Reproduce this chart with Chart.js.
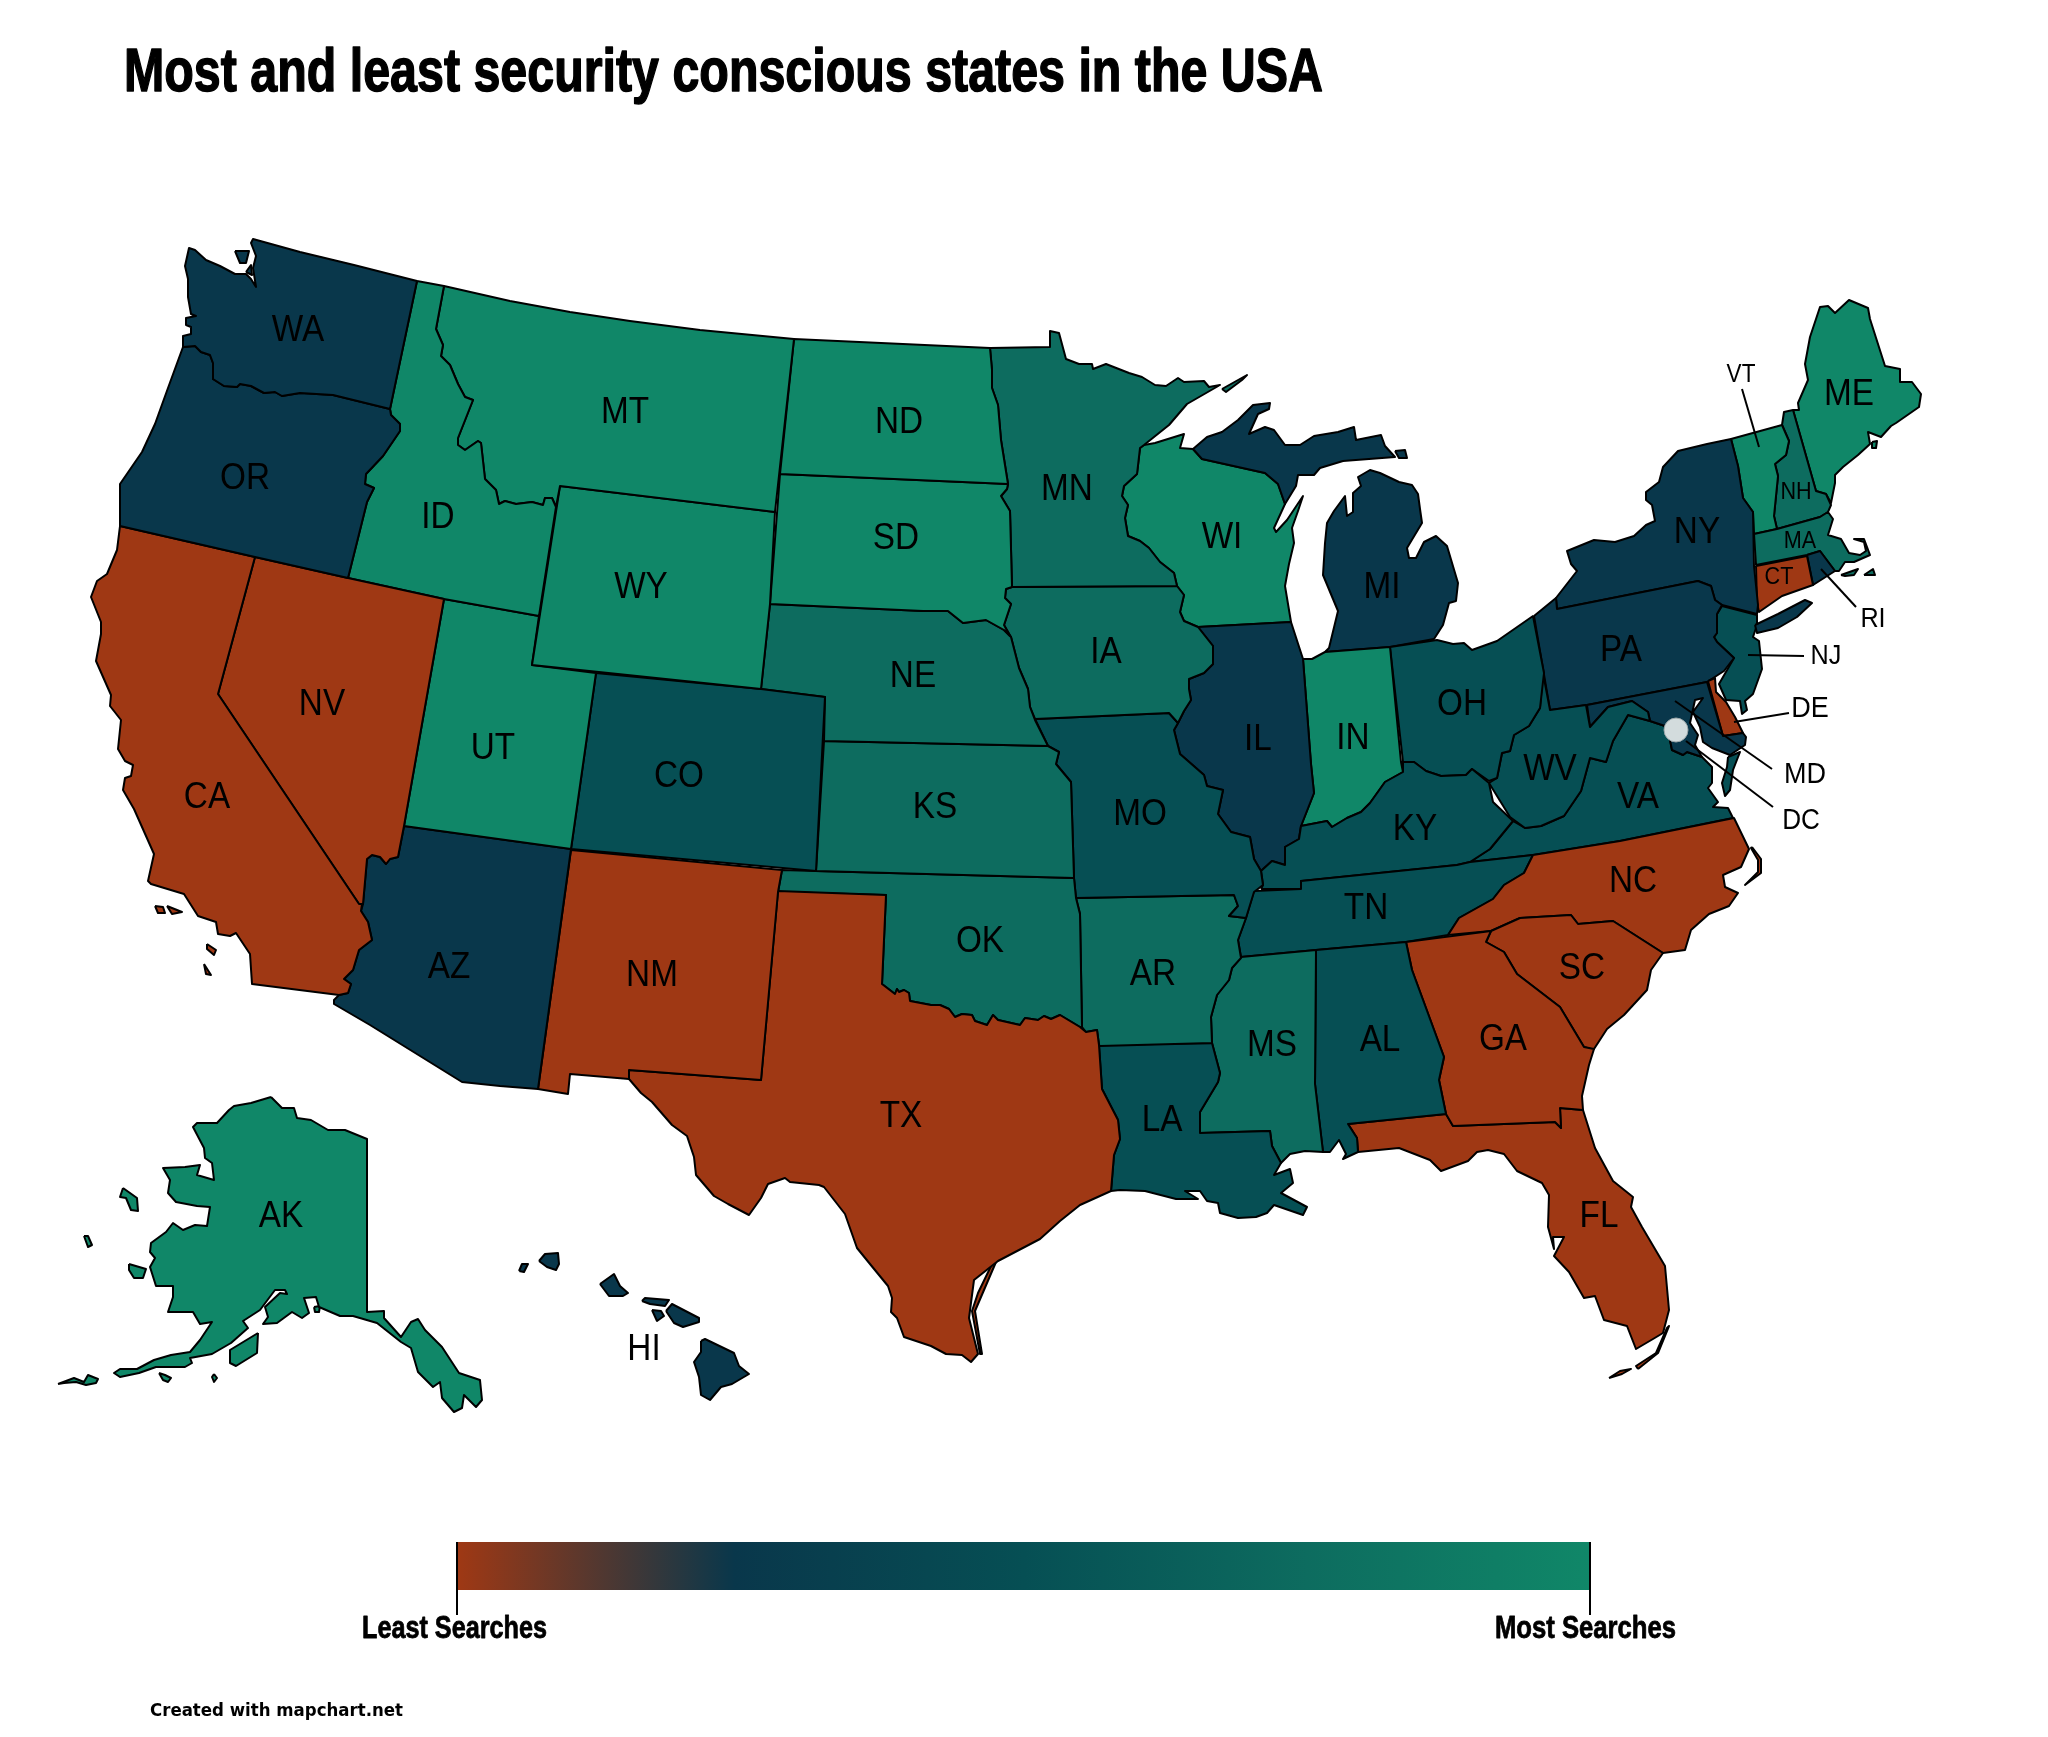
<!DOCTYPE html>
<html>
<head>
<meta charset="utf-8">
<title>Most and least security conscious states in the USA</title>
<script src="https://cdn.jsdelivr.net/npm/chart.js@4"></script>
<style>
html,body{margin:0;padding:0;background:#fff}
canvas{display:block}
</style>
</head>
<body>
<canvas id="map" width="2048" height="1737"></canvas>
<script>
// state outlines, flat x,y lists in map units. one list per land part
const WA=[[417,281,354,265,300,252,253,239,251,243,256,256,253,268,256,287,251,279,246,274,235,274,220,266,206,260,195,250,189,248,185,266,188,279,188,297,191,314,196,316,186,318,186,325,191,327,191,334,183,336,183,347,195,346,201,352,210,355,213,363,213,379,224,386,237,387,240,384,251,386,264,393,275,392,282,396,300,393,333,395,390,409],[235,251,249,251,246,263,240,263],[246,272,251,265,252,275]];
const OR=[[183,347,195,346,201,352,210,355,213,363,213,379,224,386,237,387,240,384,251,386,264,393,275,392,282,396,300,393,333,395,390,409,391,415,400,424,400,431,383,456,366,474,365,484,374,488,367,502,348,578,255,557,120,526,120,484,142,452,155,424,168,388]];
const CA=[[120,526,255,557,218,694,359,904,362,904,361,911,368,922,372,940,359,950,353,970,344,979,351,984,348,993,339,995,252,984,250,954,236,933,230,936,218,934,216,922,198,916,184,894,151,884,148,881,154,854,134,809,123,790,125,778,131,776,133,765,125,761,118,749,121,720,110,706,111,695,96,661,101,634,101,622,91,597,97,581,107,574,117,550],[155,906,163,907,165,913,158,913],[167,906,182,912,172,914],[207,944,216,950,214,955,207,949],[204,964,211,975,206,974]];
const NV=[[255,557,348,578,444,599,404,826,398,857,390,859,386,864,380,857,372,855,367,859,363,904,359,904,218,694]];
const ID=[[417,281,444,286,436,329,443,345,441,356,450,365,458,384,465,397,473,400,458,438,458,445,465,450,478,441,481,443,485,479,496,490,499,504,505,501,516,504,532,502,543,505,545,498,552,498,556,507,539,616,444,599,348,578,367,502,374,488,365,484,366,474,383,456,400,431,400,424,391,415,390,409]];
const MT=[[444,286,510,301,570,312,630,321,700,330,794,339,775,512,560,486,556,507,552,498,545,498,543,505,532,502,516,504,505,501,499,504,496,490,485,479,481,443,478,441,465,450,458,445,458,438,473,400,465,397,458,384,450,365,441,356,443,345,436,329]];
const WY=[[560,486,775,512,770,604,761,689,532,665]];
const UT=[[444,599,539,616,532,665,596,673,571,849,404,826]];
const AZ=[[404,826,571,849,538,1089,500,1086,462,1082,370,1025,334,1004,334,1000,339,995,348,993,351,984,344,979,353,970,359,950,372,940,368,922,361,911,363,904,367,859,372,855,380,857,386,864,390,859,398,857]];
const CO=[[596,673,761,689,825,697,816,871,571,849]];
const NM=[[571,850,782,870,778,892,761,1080,629,1070,629,1079,570,1074,568,1094,538,1089]];
const TX=[[778,891,886,895,882,984,895,994,897,989,899,992,904,990,909,993,910,1001,931,1005,940,1005,949,1009,955,1017,962,1014,972,1015,975,1021,987,1025,993,1015,998,1020,1020,1025,1025,1018,1038,1020,1044,1016,1051,1019,1060,1015,1080,1027,1086,1032,1097,1030,1099,1045,1102,1089,1118,1120,1120,1139,1114,1155,1111,1191,1080,1205,1060,1221,1040,1239,998,1261,974,1280,969,1318,978,1354,971,1362,962,1355,946,1354,931,1346,904,1337,897,1318,891,1312,892,1298,888,1286,870,1264,857,1248,845,1214,824,1187,819,1185,790,1182,785,1178,768,1184,761,1198,749,1215,728,1204,714,1196,696,1175,694,1157,687,1136,672,1125,652,1102,641,1093,629,1079,629,1070,761,1080],[993,1262,978,1293,972,1311,980,1354,982,1354,975,1311,996,1262]];
const ND=[[794,339,990,348,992,370,992,388,998,405,1001,440,1008,484,780,474]];
const SD=[[780,474,1008,484,1007,489,1001,496,1010,511,1012,587,1006,589,1005,598,1011,604,1004,625,1010,636,1004,630,986,620,963,623,948,611,923,611,770,604]];
const NE=[[770,604,923,611,948,611,963,623,986,620,1004,630,1010,636,1011,637,1019,668,1028,689,1030,707,1035,720,1048,746,824,741,825,697,761,689]];
const KS=[[824,741,1048,746,1059,752,1056,764,1071,782,1074,878,816,871]];
const OK=[[782,870,816,871,1074,878,1076,898,1080,914,1082,1027,1080,1027,1060,1015,1051,1019,1044,1016,1038,1020,1025,1018,1020,1025,998,1020,993,1015,987,1025,975,1021,972,1015,962,1014,955,1017,949,1009,940,1005,931,1005,910,1001,909,993,904,990,899,992,897,989,895,994,882,984,886,895,778,892]];
const MN=[[990,348,1050,347,1050,331,1059,333,1066,359,1079,364,1092,364,1093,369,1106,364,1129,373,1142,377,1155,385,1166,386,1178,378,1184,382,1204,381,1209,387,1220,385,1187,404,1169,425,1144,445,1140,448,1137,474,1124,486,1122,496,1128,505,1125,518,1128,536,1140,541,1149,548,1160,562,1174,573,1177,586,1012,587,1010,511,1001,496,1007,489,1008,484,1001,440,998,405,992,388,992,370],[1222,389,1247,375,1242,380,1226,392]];
const IA=[[1006,589,1012,587,1177,586,1184,595,1180,612,1184,621,1198,627,1213,646,1213,664,1204,673,1189,679,1189,689,1191,700,1184,711,1178,723,1169,713,1035,719,1030,707,1028,689,1019,668,1011,637,1004,625,1011,604,1005,598]];
const MO=[[1035,719,1169,713,1178,723,1174,730,1180,754,1204,775,1207,786,1223,790,1218,814,1231,832,1250,837,1254,859,1261,871,1263,885,1254,892,1246,918,1229,916,1238,906,1234,895,1076,898,1074,878,1071,782,1056,764,1059,752,1048,746]];
const AR=[[1076,898,1234,895,1238,906,1229,916,1246,918,1238,940,1241,958,1232,968,1229,980,1217,995,1211,1017,1212,1043,1100,1046,1099,1045,1097,1030,1086,1032,1082,1027,1080,914]];
const LA=[[1099,1045,1212,1043,1220,1073,1218,1082,1200,1112,1200,1133,1270,1131,1272,1146,1281,1163,1274,1175,1290,1169,1293,1183,1281,1193,1307,1207,1303,1215,1274,1205,1267,1213,1256,1217,1238,1218,1220,1213,1218,1203,1207,1201,1200,1191,1185,1191,1198,1199,1176,1199,1145,1191,1120,1190,1111,1191,1114,1155,1120,1139,1118,1120,1102,1089]];
const MS=[[1241,957,1316,950,1315,1084,1323,1152,1305,1151,1290,1154,1281,1163,1272,1146,1270,1131,1200,1133,1200,1112,1218,1082,1220,1073,1212,1043,1211,1017,1217,995,1229,980,1232,968]];
const AL=[[1316,950,1406,942,1412,970,1444,1057,1439,1080,1446,1114,1348,1124,1357,1138,1358,1152,1343,1159,1346,1154,1339,1140,1330,1152,1323,1152,1315,1084]];
const GA=[[1406,942,1491,931,1486,942,1504,952,1517,974,1560,1007,1584,1047,1594,1049,1589,1065,1582,1096,1583,1110,1560,1108,1561,1128,1555,1122,1453,1126,1446,1114,1439,1080,1444,1057,1412,970]];
const FL=[[1348,1124,1446,1114,1453,1126,1555,1122,1561,1128,1560,1108,1583,1110,1595,1148,1613,1181,1633,1197,1631,1207,1642,1227,1665,1266,1669,1310,1663,1333,1653,1339,1636,1349,1627,1326,1604,1320,1595,1296,1584,1298,1569,1272,1554,1256,1564,1237,1553,1237,1554,1249,1548,1227,1549,1195,1542,1183,1517,1171,1504,1154,1488,1150,1477,1152,1468,1161,1441,1171,1430,1160,1399,1148,1358,1152,1357,1138],[1609,1378,1620,1371,1631,1369,1622,1374],[1638,1369,1658,1353,1669,1326,1667,1328,1656,1353,1636,1366]];
const SC=[[1491,931,1520,918,1571,915,1578,924,1613,921,1663,953,1651,970,1647,990,1624,1015,1607,1029,1594,1049,1591,1049,1584,1047,1560,1007,1517,974,1504,952,1486,942]];
const NC=[[1448,935,1459,918,1493,899,1504,885,1524,873,1533,855,1620,841,1734,818,1749,849,1741,867,1723,875,1725,887,1738,893,1729,906,1709,914,1691,930,1685,950,1663,953,1613,921,1578,924,1571,915,1520,918,1491,931],[1752,847,1761,859,1761,873,1745,885,1746,884,1758,872,1758,860,1751,848]];
const TN=[[1254,891,1301,889,1301,881,1457,865,1470,862,1533,855,1524,873,1504,885,1493,899,1459,918,1448,935,1406,942,1316,950,1241,957,1238,940,1246,918]];
const KY=[[1261,889,1301,889,1301,881,1457,865,1470,862,1490,849,1513,821,1493,802,1489,783,1472,769,1466,775,1441,776,1426,771,1414,762,1403,762,1403,772,1385,782,1370,803,1361,812,1347,818,1332,827,1327,821,1301,826,1299,839,1285,847,1285,865,1272,861,1261,871,1263,885]];
const IL=[[1198,627,1291,622,1303,659,1311,764,1314,793,1301,826,1299,839,1285,847,1285,865,1272,861,1261,871,1254,859,1250,837,1231,832,1218,814,1223,790,1207,786,1204,775,1180,754,1174,730,1178,723,1184,711,1191,700,1189,689,1189,679,1204,673,1213,664,1213,646]];
const IN=[[1303,659,1312,659,1325,652,1390,647,1401,762,1403,772,1385,782,1370,803,1361,812,1347,818,1332,827,1327,821,1301,826,1314,793,1311,764]];
const OH=[[1390,647,1437,640,1453,644,1464,643,1472,650,1497,641,1533,616,1544,673,1540,708,1529,726,1514,735,1510,751,1502,753,1497,778,1489,781,1472,769,1466,775,1441,776,1426,771,1414,762,1403,762]];
const WV=[[1543,673,1550,710,1586,705,1590,727,1608,707,1632,701,1648,712,1650,721,1628,715,1613,741,1606,762,1590,758,1581,791,1564,816,1541,826,1525,828,1510,817,1489,783,1497,778,1502,753,1510,751,1514,735,1529,726,1540,708]];
const MD=[[1587,705,1707,682,1723,736,1743,733,1746,737,1745,745,1730,755,1712,748,1703,742,1700,727,1693,712,1703,698,1695,700,1690,723,1698,735,1695,745,1702,757,1687,752,1683,755,1672,750,1670,740,1665,726,1650,721,1648,712,1632,701,1608,707,1590,727]];
const DE=[[1708,681,1715,678,1716,692,1726,702,1735,717,1743,733,1723,736]];
const VA=[[1628,715,1650,721,1665,726,1670,740,1672,750,1683,755,1687,752,1702,757,1712,767,1712,783,1708,788,1718,802,1713,807,1728,808,1733,818,1620,841,1533,855,1470,862,1490,849,1513,821,1525,828,1541,826,1564,816,1581,791,1590,758,1606,762,1613,741],[1728,757,1740,752,1733,770,1730,790,1725,796,1722,783,1727,767]];
const PA=[[1534,616,1556,598,1557,609,1698,581,1711,586,1715,600,1722,605,1717,614,1717,633,1714,637,1717,642,1734,658,1724,671,1707,682,1587,705,1550,710]];
const NY=[[1557,609,1556,598,1577,571,1571,564,1567,551,1594,540,1615,542,1634,536,1646,525,1655,521,1652,505,1646,500,1646,492,1659,482,1663,467,1678,451,1707,444,1731,439,1738,466,1743,498,1753,512,1754,566,1758,605,1757,614,1722,605,1715,600,1711,586,1698,581],[1755,625,1778,614,1805,600,1812,603,1797,617,1778,628,1757,633]];
const NJ=[[1722,606,1757,615,1757,625,1753,637,1759,641,1762,669,1753,694,1745,701,1747,710,1742,714,1740,701,1726,700,1719,684,1734,658,1717,642,1714,637,1717,633,1717,614]];
const CT=[[1756,566,1807,556,1813,585,1782,596,1759,612,1757,603]];
const RI=[[1807,555,1820,551,1835,571,1813,585]];
const MA=[[1754,534,1777,529,1820,517,1828,512,1833,519,1828,535,1841,539,1849,553,1860,555,1866,551,1864,542,1854,539,1864,539,1870,555,1854,562,1845,562,1839,571,1835,571,1820,551,1807,555,1756,565],[1841,575,1858,569,1854,575,1845,576],[1864,575,1873,569,1875,575]];
const VT=[[1731,439,1782,425,1789,441,1786,455,1775,464,1778,476,1774,516,1777,529,1754,534,1753,512,1743,498,1738,466]];
const NH=[[1782,425,1784,412,1793,410,1816,491,1826,494,1831,505,1828,512,1820,517,1777,529,1774,516,1778,476,1775,464,1786,455,1789,441]];
const ME=[[1793,410,1799,410,1798,403,1808,380,1805,364,1810,337,1820,307,1828,306,1835,313,1849,300,1868,308,1870,319,1885,366,1900,369,1900,382,1912,382,1921,394,1919,407,1896,423,1891,426,1881,437,1868,432,1870,444,1858,455,1843,467,1835,475,1835,483,1831,503,1826,494,1816,491],[1872,442,1877,441,1876,448,1872,448]];
const MI=[[1193,449,1207,437,1222,432,1238,420,1253,405,1270,403,1269,409,1258,414,1249,434,1265,427,1274,430,1285,445,1300,445,1314,436,1338,432,1354,427,1356,440,1381,435,1385,446,1395,457,1343,461,1320,468,1314,475,1298,475,1296,486,1285,504,1278,484,1265,473,1202,459],[1395,451,1405,450,1407,458,1399,458],[1325,652,1329,648,1338,611,1323,575,1325,543,1327,523,1334,511,1345,496,1347,516,1353,512,1353,493,1361,486,1358,477,1370,470,1380,473,1399,482,1412,485,1418,494,1420,509,1422,523,1407,548,1409,558,1416,558,1424,542,1436,536,1447,546,1458,583,1456,601,1449,603,1443,625,1434,639,1390,647]];
const WI=[[1144,445,1155,443,1184,434,1180,448,1193,449,1202,459,1265,473,1278,484,1285,504,1274,528,1276,532,1287,520,1303,496,1298,511,1292,528,1294,543,1289,564,1285,586,1291,622,1198,627,1184,621,1180,612,1184,595,1177,586,1174,573,1160,562,1149,548,1140,541,1128,536,1125,518,1128,505,1122,496,1124,486,1137,474,1140,448]];
const AK=[[271,1097,282,1108,294,1108,297,1118,311,1120,328,1130,345,1130,367,1139,367,1312,384,1311,384,1318,401,1337,411,1322,418,1319,425,1330,442,1347,459,1373,480,1380,482,1400,476,1407,464,1395,462,1408,454,1412,442,1398,440,1382,433,1387,418,1372,411,1348,401,1342,377,1323,353,1316,340,1316,319,1307,316,1297,304,1298,309,1313,302,1318,292,1312,277,1323,263,1324,268,1317,265,1307,280,1293,287,1294,285,1290,275,1290,260,1310,243,1321,248,1328,231,1343,212,1354,190,1358,192,1363,185,1367,173,1367,156,1367,139,1373,120,1377,114,1373,120,1369,137,1369,154,1360,171,1355,190,1352,200,1340,212,1322,200,1324,193,1312,168,1312,173,1297,173,1286,156,1286,150,1267,155,1258,150,1252,151,1243,166,1232,173,1223,183,1230,195,1225,207,1226,210,1207,197,1206,176,1202,168,1193,170,1180,163,1168,185,1167,200,1165,197,1175,214,1180,212,1163,205,1158,204,1148,193,1127,197,1123,217,1123,229,1110,234,1106,251,1103],[123,1188,137,1198,138,1211,131,1210,126,1198,120,1197],[84,1236,88,1236,92,1245,88,1247],[129,1264,146,1269,143,1278,134,1278,129,1270],[258,1333,257,1353,236,1366,230,1363,230,1350],[58,1384,74,1378,84,1382,88,1375,98,1379,96,1383,86,1385,76,1382,64,1383],[159,1373,165,1375,171,1378,168,1382,163,1380],[214,1374,217,1378,214,1382,212,1377],[314,1307,320,1306,319,1312,315,1312]];
const HI=[[519,1271,522,1264,528,1264,524,1272],[539,1261,545,1254,558,1253,559,1264,556,1270,547,1267],[600,1284,614,1274,620,1286,628,1293,623,1296,609,1296],[642,1301,645,1298,669,1300,665,1306,650,1304],[652,1310,661,1311,664,1316,657,1321],[666,1311,672,1304,699,1318,699,1322,683,1327,674,1323],[701,1341,705,1339,734,1353,739,1366,749,1374,732,1384,721,1387,710,1400,701,1395,699,1377,694,1362,701,1352]];

const stateCodes=['WA','OR','CA','NV','ID','MT','WY','UT','AZ','CO','NM','TX','ND','SD','NE','KS','OK','MN','IA','MO','AR','LA','MS','AL','GA','FL','SC','NC','TN','KY','IL','IN','OH','WV','MD','DE','VA','PA','NY','NJ','CT','RI','MA','VT','NH','ME','MI','WI','AK','HI'];
const stateShapes=[WA,OR,CA,NV,ID,MT,WY,UT,AZ,CO,NM,TX,ND,SD,NE,KS,OK,MN,IA,MO,AR,LA,MS,AL,GA,FL,SC,NC,TN,KY,IL,IN,OH,WV,MD,DE,VA,PA,NY,NJ,CT,RI,MA,VT,NH,ME,MI,WI,AK,HI];
// 0 = least searches ... 4 = most searches
const stateLevels=[1,1,0,0,4,4,4,4,1,2,0,0,4,4,3,3,3,3,3,2,3,2,3,2,0,0,0,0,2,2,1,4,2,2,1,0,2,1,1,2,0,1,3,4,3,4,1,4,4,1];
const levelColors=['#9f3814','#09374b','#064f54','#0d6c5f','#108768'];

// label text and where it sits
const labelText=['WA','OR','ID','MT','WY','NV','UT','CO','CA','AZ','NM','ND','SD','NE','KS','MN','IA','MO','WI','IL','IN','MI','TX','OK','AR','HI','LA','MS','AL','GA','SC','NC','TN','KY','FL','VA','WV','OH','PA','NY','ME','AK','VT','NH','MA','CT','RI','NJ','DE','MD','DC'];
const labelX=[298,245,438,625,641,322,493,679,207,449,652,899,896,913,935,1067,1106,1140,1222,1258,1353,1382,901,980,1153,644,1162,1272,1380,1503,1582,1633,1366,1415,1599,1638,1550,1462,1621,1697,1849,281,1741,1796,1800,1779,1873,1826,1810,1805,1801];
const labelY=[328,476,515,410,585,702,746,774,795,965,973,420,536,674,805,487,650,812,535,737,736,585,1114,939,972,1347,1118,1043,1038,1037,966,879,906,827,1214,795,767,702,648,530,392,1214,373,491,540,576,617,654,707,773,819];
const labelSize=[37,37,37,37,37,37,37,37,37,37,37,37,37,37,37,37,37,37,37,37,37,37,37,37,37,37,37,37,37,37,37,37,37,37,37,37,37,37,37,37,37,37,25,24,24,24,28,28,30,30,29];

// leader lines from small states to their labels, then legend end ticks
const leaderVT=[[1742,389],[1759,447]];
const leaderNJ=[[1748,655],[1804,656]];
const leaderRI=[[1821,569],[1856,607]];
const leaderDE=[[1734,722],[1789,713]];
const leaderMD=[[1675,701],[1772,769]];
const leaderDC=[[1686,741],[1773,807]];
const tickLeast=[[457,1542],[457,1615]];
const tickMost=[[1590,1542],[1590,1615]];
const leaders=[leaderVT,leaderNJ,leaderRI,leaderDE,leaderMD,leaderDC,tickLeast,tickMost];
const dcMarker=[[1676,730]];

const legendBar=[[457,1542],[1590,1542],[1590,1590],[457,1590]];
const legendStops=[0,0.245,0.5,0.75,1];

const titleText='Most and least security conscious states in the USA';
const legendLeast='Least Searches';
const legendMost='Most Searches';
const creditText='Created with mapchart.net';

function pairs(flat){
  const out=[];
  for(let i=0;i<flat.length;i+=2) out.push({x:flat[i],y:flat[i+1]});
  out.push({x:flat[0],y:flat[1]}); // close the ring
  return out;
}
function toXY(list){ return list.map(p=>({x:p[0],y:p[1]})); }

const datasets=[];
leaders.forEach(l=>datasets.push({data:toXY(l),showLine:true,borderColor:'#000',borderWidth:2,pointRadius:0,order:0}));
datasets.push({data:toXY(dcMarker),showLine:false,pointRadius:12,pointBackgroundColor:'#d3dcdd',pointBorderColor:'#9aa5a8',pointBorderWidth:1,order:1});
stateShapes.forEach((shape,i)=>{
  shape.forEach(part=>datasets.push({
    label:stateCodes[i],data:pairs(part),showLine:true,pointRadius:0,
    borderColor:'#000',borderWidth:2,borderJoinStyle:'round',
    areaFill:levelColors[stateLevels[i]],order:2
  }));
});
const legendData=toXY(legendBar); legendData.push(legendData[0]);
datasets.push({label:'legend',data:legendData,showLine:true,pointRadius:0,borderWidth:0,borderColor:'rgba(0,0,0,0)',areaGradient:true,order:3});

// chart.js line fill does not close a ring, so fill the points it already scaled
const ringFill={
  id:'ringFill',
  beforeDatasetDraw(chart,args){
    const ds=chart.data.datasets[args.index];
    if(!ds.areaFill && !ds.areaGradient) return;
    const pts=args.meta.data, ctx=chart.ctx;
    ctx.save();
    if(ds.areaGradient){
      const g=ctx.createLinearGradient(pts[0].x,0,pts[1].x,0);
      legendStops.forEach((s,i)=>g.addColorStop(s,levelColors[i]));
      ctx.fillStyle=g;
    } else ctx.fillStyle=ds.areaFill;
    ctx.beginPath();
    pts.forEach((p,i)=>i?ctx.lineTo(p.x,p.y):ctx.moveTo(p.x,p.y));
    ctx.closePath();
    ctx.fill();
    ctx.restore();
  }
};
const mapText={
  id:'mapText',
  afterDatasetsDraw(chart){
    const ctx=chart.ctx, sx=chart.scales.x, sy=chart.scales.y;
    ctx.save();
    ctx.fillStyle='#000';
    ctx.strokeStyle='#000';
    ctx.textAlign='center';
    labelText.forEach((t,i)=>{
      ctx.font=labelSize[i]+'px "Liberation Sans"';
      // reference letters are a bit narrow, the map was stretched
      ctx.fillText(t,sx.getPixelForValue(labelX[i]),sy.getPixelForValue(labelY[i]+labelSize[i]*0.345),ctx.measureText(t).width*0.9);
    });
    ctx.textAlign='left';
    ctx.lineJoin='round';
    ctx.lineWidth=1.5;
    ctx.font='bold 62px "Liberation Sans"';
    ctx.fillText(titleText,sx.getPixelForValue(124),sy.getPixelForValue(91),1199);
    ctx.strokeText(titleText,sx.getPixelForValue(124),sy.getPixelForValue(91),1199);
    ctx.lineWidth=0.8;
    ctx.font='bold 32px "Liberation Sans"';
    ctx.fillText(legendLeast,sx.getPixelForValue(362),sy.getPixelForValue(1638),185);
    ctx.strokeText(legendLeast,sx.getPixelForValue(362),sy.getPixelForValue(1638),185);
    ctx.fillText(legendMost,sx.getPixelForValue(1495),sy.getPixelForValue(1638),181);
    ctx.strokeText(legendMost,sx.getPixelForValue(1495),sy.getPixelForValue(1638),181);
    ctx.font='bold 18px "DejaVu Sans"';
    ctx.fillText(creditText,sx.getPixelForValue(150),sy.getPixelForValue(1716),253);
    ctx.restore();
  }
};

new Chart(document.getElementById('map').getContext('2d'),{
  type:'scatter',
  data:{datasets},
  plugins:[ringFill,mapText],
  options:{
    responsive:false,animation:false,devicePixelRatio:1,
    layout:{padding:0,autoPadding:false},
    elements:{line:{tension:0,fill:false}},
    plugins:{legend:{display:false},title:{display:false},tooltip:{enabled:false}},
    scales:{
      x:{type:'linear',min:0,max:2048,display:false},
      y:{type:'linear',min:0,max:1737,reverse:true,display:false}
    }
  }
});
</script>
</body>
</html>
